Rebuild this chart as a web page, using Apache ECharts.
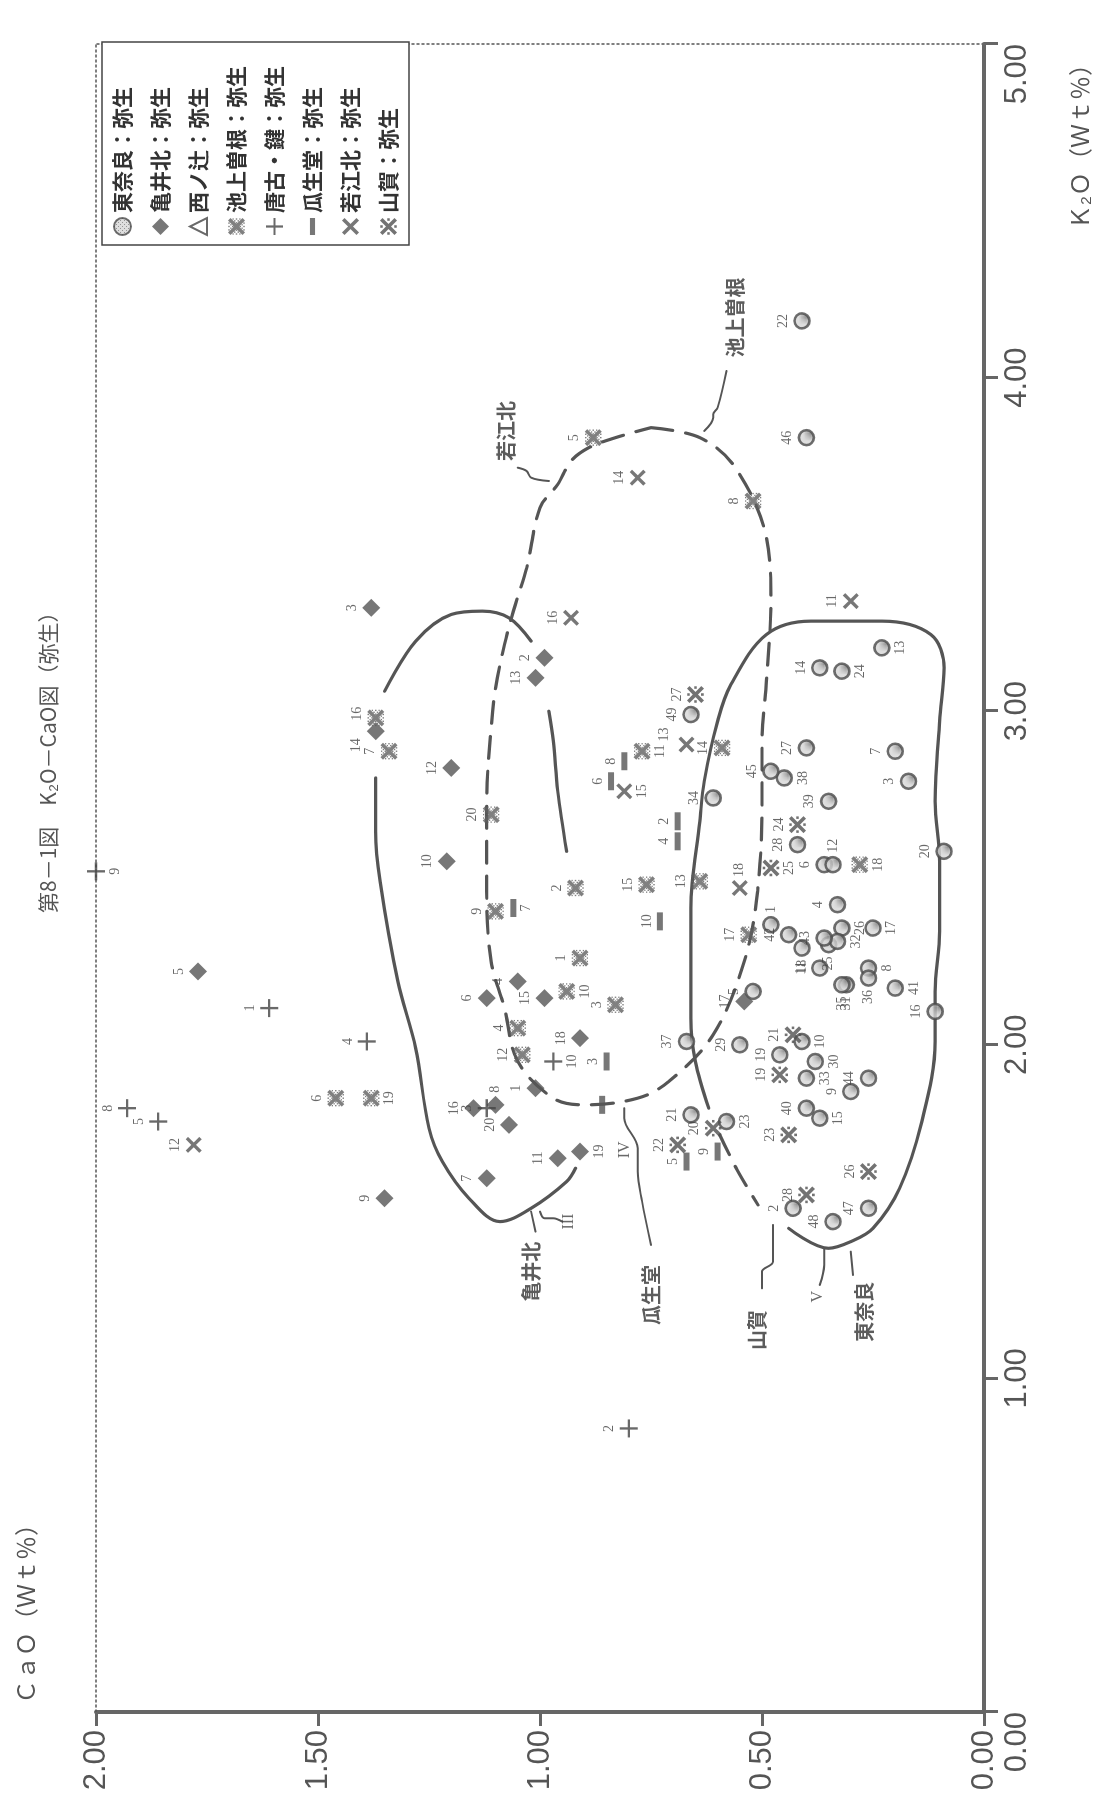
<!DOCTYPE html>
<html><head><meta charset="utf-8">
<script src="https://cdn.jsdelivr.net/npm/echarts@6/dist/echarts.min.js"></script>
<style>
html,body{margin:0;padding:0;background:#fff;overflow:hidden;width:1105px;height:1820px}
#rot{position:absolute;left:0;top:0;width:1820px;height:1105px;transform-origin:0 0;transform:translate(0px,1820px) rotate(-90deg)}
</style></head><body>
<div id="rot"></div>
<script>
// ---------- DATA (K2O wt%, CaO wt%) ----------
const xTicks = ['0.00','1.00','2.00','3.00','4.00','5.00'];
const yTicks = ['0.00','0.50','1.00','1.50','2.00'];

// 東奈良
const tohnaraNo  = [1,2,3,4,5,6,7,8,9,10,11,12,13,14,15,16,17,18,19,20,21,22,23,24,25,26,27,28,29,30,31,32,33,34,35,36,37,38,39,40,41,42,43,44,45,46,47,48,49];
const tohnaraK2O = [2.36,1.51,2.79,2.42,2.16,2.54,2.88,2.23,1.86,2.01,2.23,2.54,3.19,3.13,1.78,2.10,2.35,2.29,1.97,2.58,1.79,4.17,1.77,3.12,2.30,2.35,2.89,2.60,2.00,1.95,2.18,2.31,1.90,2.74,2.18,2.20,2.01,2.80,2.73,1.81,2.17,2.33,2.32,1.90,2.82,3.82,1.51,1.47,2.99];
const tohnaraCaO = [0.48,0.43,0.17,0.33,0.52,0.36,0.20,0.26,0.30,0.41,0.37,0.34,0.23,0.37,0.37,0.11,0.25,0.41,0.46,0.09,0.66,0.41,0.58,0.32,0.35,0.32,0.40,0.42,0.55,0.38,0.31,0.33,0.40,0.61,0.32,0.26,0.67,0.45,0.35,0.40,0.20,0.44,0.36,0.26,0.48,0.40,0.26,0.34,0.66];
// 亀井北
const kameiNo  = [1,2,3,4,5,6,7,8,9,10,11,12,13,14,15,16,17,18,19,20];
const kameiK2O = [1.87,3.16,3.31,2.19,2.22,2.14,1.60,1.82,1.54,2.55,1.66,2.83,3.10,2.94,2.14,1.81,2.13,2.02,1.68,1.76];
const kameiCaO = [1.01,0.99,1.38,1.05,1.77,1.12,1.12,1.10,1.35,1.21,0.96,1.20,1.01,1.37,0.99,1.15,0.54,0.91,0.91,1.07];
// 西ノ辻 (no plotted samples)
const nishiNo = [], nishiK2O = [], nishiCaO = [];
// 池上曽根
const ikegamiNo  = [1,2,3,4,5,6,7,8,9,10,11,12,13,14,15,16,17,18,19,20];
const ikegamiK2O = [2.26,2.47,2.12,2.05,3.82,1.84,2.88,3.63,2.40,2.16,2.88,1.97,2.49,2.89,2.48,2.98,2.33,2.54,1.84,2.69];
const ikegamiCaO = [0.91,0.92,0.83,1.05,0.88,1.46,1.34,0.52,1.10,0.94,0.77,1.04,0.64,0.59,0.76,1.37,0.53,0.28,1.38,1.11];
// 唐古・鍵
const karakoNo  = [1,2,3,4,5,8,9,10];
const karakoK2O = [2.11,0.85,1.81,2.01,1.77,1.81,2.52,1.95];
const karakoCaO = [1.61,0.80,1.12,1.39,1.86,1.93,2.00,0.97];
// 瓜生堂
const uryudoNo  = ['2','3','4','5','6','7','8','9','10',''];
const uryudoK2O = [2.67,1.95,2.61,1.65,2.79,2.41,2.85,1.68,2.37,1.82];
const uryudoCaO = [0.69,0.85,0.69,0.67,0.84,1.06,0.81,0.60,0.73,0.86];
// 若江北
const wakaeNo  = [11,12,13,14,15,16,18];
const wakaeK2O = [3.33,1.70,2.90,3.70,2.76,3.28,2.47];
const wakaeCaO = [0.30,1.78,0.67,0.78,0.81,0.93,0.55];
// 山賀
const yamagaNo  = [19,20,21,22,23,24,25,26,27,28];
const yamagaK2O = [1.91,1.75,2.03,1.70,1.73,2.66,2.53,1.62,3.05,1.55];
const yamagaCaO = [0.46,0.61,0.43,0.69,0.44,0.42,0.48,0.26,0.65,0.40];

// group outlines [K2O, CaO]
const loopDashed = [[3.85,0.75],[3.82,0.64],[3.73,0.56],[3.52,0.49],[3.33,0.48],[3.09,0.49],[2.91,0.50],[2.73,0.50],[2.46,0.51],[2.25,0.54],[2.03,0.61],[1.89,0.71],[1.84,0.78],[1.82,0.90],[1.84,0.97],[1.95,1.05],[2.11,1.08],[2.25,1.11],[2.46,1.12],[2.73,1.12],[2.95,1.11],[3.07,1.10],[3.20,1.08],[3.30,1.06],[3.43,1.03],[3.61,1.00],[3.68,0.96],[3.75,0.93],[3.79,0.89],[3.82,0.83],[3.85,0.75]];
const kameiArcTop = [[3.21,1.02],[3.28,1.07],[3.30,1.13],[3.29,1.20],[3.21,1.28],[3.06,1.35]];
const kameiArcLow = [[2.80,1.37],[2.64,1.37],[2.49,1.36],[2.19,1.32],[1.99,1.28],[1.75,1.25],[1.65,1.22],[1.54,1.16],[1.47,1.09],[1.51,1.02],[1.59,0.94],[1.63,0.92]];
const innerLine = [[3.00,0.98],[2.91,0.97],[2.76,0.96],[2.58,0.94]];
const tohnaraLoop = [[1.81,0.62],[1.95,0.65],[2.08,0.66],[2.13,0.66],[2.41,0.66],[2.67,0.64],[2.79,0.63],[2.97,0.60],[3.08,0.57],[3.23,0.49],[3.27,0.39],[3.27,0.23],[3.23,0.12],[3.13,0.09],[2.97,0.10],[2.73,0.11],[2.55,0.10],[2.34,0.10],[2.16,0.11],[2.01,0.11],[1.77,0.14],[1.57,0.19],[1.45,0.25],[1.41,0.30],[1.39,0.35],[1.45,0.44]];
const yamagaDash = [[1.73,0.595],[1.625,0.556],[1.52,0.509]];
const leaders = [
  [[3.73,1.05],[3.72,1.03],[3.70,1.02],[3.69,0.98]],
  [[4.02,0.58],[3.91,0.60],[3.89,0.61],[3.88,0.61],[3.84,0.63]],
  [[1.44,1.01],[1.50,1.02]],
  [[1.47,0.95],[1.48,0.97],[1.48,0.99],[1.50,1.00]],
  [[1.40,0.75],[1.53,0.77],[1.62,0.78],[1.69,0.78],[1.78,0.81],[1.81,0.81]],
  [[1.27,0.50],[1.32,0.50],[1.35,0.475],[1.46,0.475]],
  [[1.28,0.37],[1.34,0.36],[1.39,0.36]],
  [[1.31,0.295],[1.38,0.30]]
];
const groupNames = ['若江北','池上曽根','亀井北','瓜生堂','山賀','東奈良'];
const groupK2O   = [3.84,4.18,1.32,1.25,1.145,1.20];
const groupCaO   = [1.075,0.56,1.02,0.75,0.51,0.27];
const romanNames = ['III','IV','V'];
const romanK2O   = [1.47,1.685,1.245];
const romanCaO   = [0.935,0.81,0.375];

// label placement (style) per number
const labelPos = {
  tohnara:{1:'right',8:'bottom',10:'bottom',12:'right',13:'bottom',15:'bottom',17:'bottom',18:'left',23:'bottom',24:'bottom',25:'left',26:'bottom',30:'bottom',31:'left',32:'bottom',33:'bottom',35:'left',36:'left',38:'bottom',41:'bottom'},
  kamei:{8:'right',19:'bottom',14:['top',[-14,0]]},
  ikegami:{10:'bottom',11:'bottom',18:'bottom',19:'bottom',16:['top',[4,0]]},
  karako:{9:'bottom',10:'bottom'},
  uryudo:{7:'bottom'},
  wakae:{15:'bottom',18:'right',13:['top',[10,-4]]},
  yamaga:{25:'bottom'}
};

// ---------- symbols ----------
const X_PATH = 'M3,0L10,7L17,0L20,3L13,10L20,17L17,20L10,13L3,20L0,17L7,10L0,3Z';
const topDots = [[6,1.2],[10,1.2],[14,1.2],[8,3.4],[12,3.4],[10,5.6]];
let dotStr = '';
topDots.forEach(([x,y]) => {
  [[x,y],[x,20-y],[y,x],[20-y,x]].forEach(([cx,cy]) => {
    dotStr += 'M'+(cx-0.8)+','+(cy-0.8)+'h1.6v1.6h-1.6Z';
  });
});
const STIPPLE_X = 'path://' + X_PATH + dotStr;
const KOME = 'path://' + X_PATH + 'M8.5,0.3h3v3h-3ZM8.5,16.7h3v3h-3ZM0.3,8.5h3v3h-3ZM16.7,8.5h3v3h-3Z';
const PLAIN_X = 'path://' + X_PATH;
const PLUS = 'path://M8.7,0h2.6v20h-2.6ZM0,8.7h20v2.6h-20Z';
const BAR = 'path://M0,0h20v6h-20Z';

// stippled fill for the 東奈良 circles
const pc = document.createElement('canvas'); pc.width = 4; pc.height = 4;
const pg = pc.getContext('2d');
pg.fillStyle = '#d6d6d6'; pg.fillRect(0,0,4,4);
pg.fillStyle = '#7a7a7a'; pg.fillRect(0,0,1,1); pg.fillRect(2,2,1,1);
const stipple = {image: pc, repeat: 'repeat'};

const numFont = {fontFamily:'"Liberation Serif","DejaVu Serif",serif', fontSize:14, color:'#444'};

function pts(key, nos, xs, ys){
  return nos.map((n,i) => {
    const p = labelPos[key] && labelPos[key][n];
    const lab = Array.isArray(p) ? {position:p[0], offset:p[1]} : {position:p || 'top'};
    return {name:String(n), value:[xs[i], ys[i]], label:lab};
  });
}
function scatter(name, key, nos, xs, ys, symbol, size, style){
  return {
    type:'scatter', name, symbol, symbolSize:size, z:5,
    data: pts(key, nos, xs, ys),
    itemStyle: style,
    label: Object.assign({show:true, distance:3, formatter:p=>p.name}, numFont),
    emphasis:{disabled:true}
  };
}
function line(data, dashed, width){
  return {type:'line', data, symbol:'none', smooth:0.35, silent:true, z:2, clip:false,
    lineStyle:{color:'#555', width: width||3.2, type: dashed ? [22,13] : 'solid', cap:'round'}};
}

const series = [
  line(loopDashed, true),
  line(kameiArcTop, false),
  line(kameiArcLow, false),
  line(innerLine, false),
  line(tohnaraLoop, false),
  line(yamagaDash, true),
  ...leaders.map(l => line(l, false, 2)),
  scatter('東奈良：弥生','tohnara',tohnaraNo,tohnaraK2O,tohnaraCaO,'circle',15,{color:stipple,borderColor:'#4a4a4a',borderWidth:2.6}),
  scatter('亀井北：弥生','kamei',kameiNo,kameiK2O,kameiCaO,'diamond',18,{color:'#555'}),
  scatter('西ノ辻：弥生','nishi',nishiNo,nishiK2O,nishiCaO,'triangle',16,{color:'#fff',borderColor:'#444',borderWidth:2}),
  scatter('池上曽根：弥生','ikegami',ikegamiNo,ikegamiK2O,ikegamiCaO,STIPPLE_X,17,{color:'#606060'}),
  scatter('唐古・鍵：弥生','karako',karakoNo,karakoK2O,karakoCaO,PLUS,18,{color:'#444'}),
  scatter('瓜生堂：弥生','uryudo',uryudoNo,uryudoK2O,uryudoCaO,'rect',[18,6],{color:'#555'}),
  scatter('若江北：弥生','wakae',wakaeNo,wakaeK2O,wakaeCaO,PLAIN_X,16,{color:'#555'}),
  scatter('山賀：弥生','yamaga',yamagaNo,yamagaK2O,yamagaCaO,KOME,17,{color:'#505050'}),
  {type:'scatter', symbolSize:0, silent:true, z:6,
    data: groupNames.map((n,i)=>({name:n, value:[groupK2O[i], groupCaO[i]]})),
    label:{show:true, position:'inside', formatter:p=>p.name, fontFamily:'"Noto Sans CJK JP",sans-serif', fontWeight:'bold', fontSize:20, color:'#333'}},
  {type:'scatter', symbolSize:0, silent:true, z:6,
    data: romanNames.map((n,i)=>({name:n, value:[romanK2O[i], romanCaO[i]]})),
    label:{show:true, position:'inside', formatter:p=>p.name, fontFamily:'"Liberation Serif",serif', fontSize:16, color:'#444'}}
];

const legendNames = ['東奈良：弥生','亀井北：弥生','西ノ辻：弥生','池上曽根：弥生','唐古・鍵：弥生','瓜生堂：弥生','若江北：弥生','山賀：弥生'];
const legendIcons = ['circle','diamond','triangle',STIPPLE_X,PLUS,BAR,PLAIN_X,KOME];

const tickFont = {fontFamily:'"Liberation Sans","DejaVu Sans",sans-serif', fontSize:31, color:'#555'};
const axisLineStyle = {color:'#666', width:4};
const frameLine = {show:true, onZero:false, lineStyle:{color:'#555', width:1.5, type:[2,3]}};

const option = {
  animation:false,
  backgroundColor:'#fff',
  title:{text:'第8－1図　K₂O－CaO図（弥生）', left:902, top:33,
    textStyle:{fontFamily:'"Noto Sans CJK JP",sans-serif', fontSize:21, fontWeight:'normal', color:'#555'}},
  legend:{
    orient:'vertical', right:42, top:102,
    data: legendNames.map((n,i)=>({name:n, icon:legendIcons[i]})),
    itemWidth:17, itemHeight:17, itemGap:17,
    padding:[10,24,10,9],
    borderColor:'#444', borderWidth:1.5, backgroundColor:'#fff',
    selectedMode:false,
    textStyle:{fontFamily:'"Noto Sans CJK JP",sans-serif', fontSize:21, fontWeight:'bold', color:'#333'}
  },
  grid:{left:108, right:44, top:96, bottom:121, containLabel:false, outerBoundsMode:'none'},
  xAxis:[{
    type:'value', min:0, max:5, interval:1, position:'bottom',
    axisLine:{show:true, lineStyle:axisLineStyle},
    axisTick:{show:true, length:14, lineStyle:{color:'#666', width:3}},
    axisLabel:Object.assign({margin:18, formatter:v=>xTicks[Math.round(v)], alignMinLabel:'right', alignMaxLabel:'right'}, tickFont),
    splitLine:{show:false},
    name:'Ｋ₂Ｏ（Ｗｔ％）', nameLocation:'end', nameGap:-8,
    nameTextStyle:{fontFamily:'"Noto Sans CJK JP",sans-serif', fontSize:24, color:'#555', align:'right', verticalAlign:'top', padding:[84,0,0,0]}
  },{
    type:'value', min:0, max:5, position:'top',
    axisLine:frameLine,
    axisTick:{show:false}, axisLabel:{show:false}, splitLine:{show:false}
  }],
  yAxis:[{
    type:'value', min:0, max:2, interval:0.5, position:'left',
    axisLine:{show:true, lineStyle:axisLineStyle},
    axisTick:{show:true, length:14, lineStyle:{color:'#666', width:3}},
    axisLabel:Object.assign({margin:18, formatter:v=>yTicks[Math.round(v*2)]}, tickFont),
    splitLine:{show:false},
    name:'ＣａＯ（Ｗｔ％）', nameLocation:'end', nameGap:70,
    nameTextStyle:{fontFamily:'"Noto Sans CJK JP",sans-serif', fontSize:24, color:'#555', align:'left', verticalAlign:'middle', padding:[0,0,0,8]}
  },{
    type:'value', min:0, max:2, position:'right',
    axisLine:frameLine,
    axisTick:{show:false}, axisLabel:{show:false}, splitLine:{show:false}
  }],
  series
};

const chart = echarts.init(document.getElementById('rot'), null, {renderer:'canvas', width:1820, height:1105});
chart.setOption(option);
</script>
</body></html>
